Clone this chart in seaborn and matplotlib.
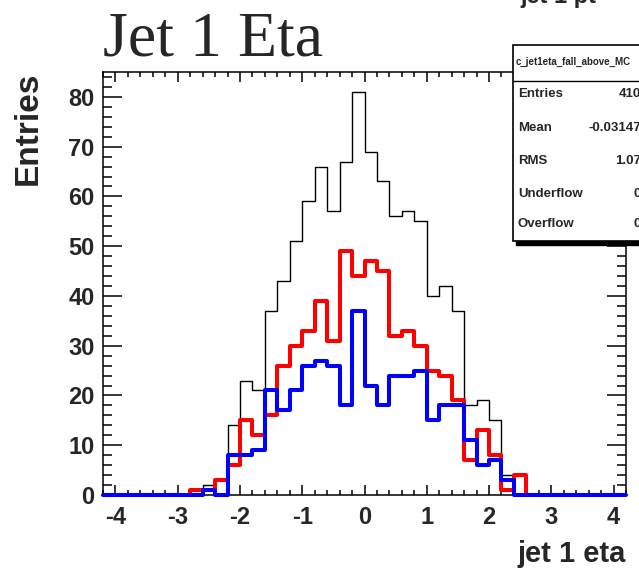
import numpy as np
import pandas as pd
import matplotlib
matplotlib.use("Agg")
import matplotlib.pyplot as plt
import seaborn as sns
from matplotlib.patches import Rectangle
from matplotlib.ticker import MultipleLocator

# ---------------- data ----------------
bin_edges = [round(v, 1) for v in np.linspace(-4.2, 4.2, 43)]
black_counts = [0, 0, 0, 0, 0, 0, 0,
                1, 2, 3, 14, 23, 21, 37, 43, 51, 59,
                66, 57, 67, 81, 69, 63, 56, 57, 55, 40,
                42, 37, 18, 19, 15, 4, 4,
                0, 0, 0, 0, 0, 0, 0, 0]
red_counts = [0, 0, 0, 0, 0, 0, 0,
              1, 1, 3, 6, 15, 12, 16, 26, 30, 33,
              39, 31, 49, 44, 47, 45, 32, 33, 30, 25,
              24, 19, 7, 13, 8, 1, 4,
              0, 0, 0, 0, 0, 0, 0, 0]
blue_counts = [0, 0, 0, 0, 0, 0, 0,
               0, 1, 0, 8, 8, 9, 21, 17, 21, 26,
               27, 26, 18, 37, 22, 18, 24, 24, 25, 15,
               18, 18, 11, 6, 7, 3, 0,
               0, 0, 0, 0, 0, 0, 0, 0]
stat_labels = ["Entries", "Mean", "RMS", "Underflow", "Overflow"]
stat_values = ["410", "-0.03147", "1.07", "0", "0"]
x_ticks = [-4, -3, -2, -1, 0, 1, 2, 3, 4]
y_ticks = [0, 10, 20, 30, 40, 50, 60, 70, 80]

edges_arr = np.array(bin_edges)
centers = (edges_arr[:-1] + edges_arr[1:]) / 2
df = pd.concat([
    pd.DataFrame({"eta": centers, "w": black_counts, "series": "all"}),
    pd.DataFrame({"eta": centers, "w": red_counts, "series": "red"}),
    pd.DataFrame({"eta": centers, "w": blue_counts, "series": "blue"}),
], ignore_index=True)

# ---------------- style ----------------
sns.set_style("ticks")
plt.rcParams["font.family"] = ["Liberation Sans", "DejaVu Sans"]
plt.rcParams["axes.unicode_minus"] = False

W, H = 639, 574
fig = plt.figure(figsize=(W / 100, H / 100), dpi=100)
fx = lambda px: px / W
fy = lambda py: 1 - py / H

ax = fig.add_axes([fx(103), fy(495), fx(626) - fx(103), fy(72) - fy(495)])

styles = {"all": ("black", 1.0, 2), "red": ("#ff0000", 2.9, 3), "blue": ("#0000ff", 2.9, 4)}
for name, (col, lw, z) in styles.items():
    sub = df[df["series"] == name].reset_index(drop=True)
    n_before = len(ax.lines)
    sns.histplot(data=sub, x="eta", weights="w", bins=bin_edges, element="step",
                 fill=False, color=col, linewidth=lw, ax=ax)
    for ln in ax.lines[n_before:]:
        ln.set_zorder(z)
        if name == "blue":
            ln.set_clip_on(False)
            ln.set_zorder(5)

ax.set_xlim(-4.2, 4.2)
ax.set_ylim(0, 85)

ax.set_xticks(x_ticks)
ax.set_yticks(y_ticks)
ax.xaxis.set_minor_locator(MultipleLocator(0.2))
ax.yaxis.set_minor_locator(MultipleLocator(2))
ax.tick_params(axis="both", which="both", direction="in", top=True, right=True,
               width=1.1, color="black")
ax.tick_params(axis="x", which="major", length=7, pad=8)
ax.tick_params(axis="x", which="minor", length=3.6)
ax.tick_params(axis="y", which="major", length=14, pad=6)
ax.tick_params(axis="y", which="minor", length=6.5)
for lab in ax.get_xticklabels() + ax.get_yticklabels():
    lab.set_fontweight("bold")
    lab.set_fontsize(17)
for sp in ax.spines.values():
    sp.set_linewidth(1.1)
    sp.set_color("black")

ax.set_xlabel("jet 1 eta", loc="right", fontsize=21, fontweight="bold", labelpad=8)
ax.set_ylabel("Entries", loc="top", fontsize=24, fontweight="bold", labelpad=18)

# title
fig.text(fx(103), fy(55), "Jet 1 Eta", family=["Liberation Serif", "DejaVu Serif"],
         fontsize=46, ha="left", va="baseline")
# clipped neighbour pad title (cut by the top edge, as in the reference)
fig.text(fx(520), fy(-3), "jet 1 pt", fontsize=17, fontweight="bold", ha="left", va="center")

# stats box
shadow = Rectangle((fx(516), fy(245)), fx(700) - fx(516), fy(48) - fy(245),
                   transform=fig.transFigure, facecolor="black", edgecolor="black", zorder=20)
box = Rectangle((fx(513), fy(241)), fx(700) - fx(513), fy(45) - fy(241),
                transform=fig.transFigure, facecolor="white", edgecolor="black",
                linewidth=1.2, zorder=21)
fig.add_artist(shadow)
fig.add_artist(box)
fig.add_artist(plt.Line2D([fx(513), fx(700)], [fy(81), fy(81)], transform=fig.transFigure,
                          color="black", linewidth=1.0, zorder=22))
fig.text(fx(516), fy(62), "c_jet1eta_fall_above_MC", fontsize=7, fontweight="bold",
         ha="left", va="center", zorder=23)
row_y = [94, 128, 161, 194, 224]
for lab, val, yy in zip(stat_labels, stat_values, row_y):
    fig.text(fx(518), fy(yy), lab, fontsize=9.5, fontweight="bold", ha="left", va="center", zorder=23)
    fig.text(fx(641), fy(yy), val, fontsize=9.5, fontweight="bold", ha="right", va="center", zorder=23)

fig.savefig("out.png", dpi=100)
